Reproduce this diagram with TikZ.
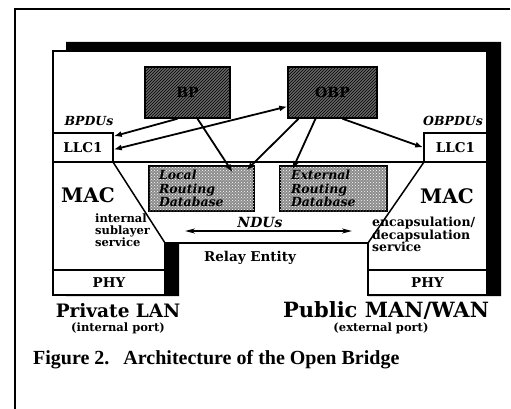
\documentclass[tikz,border=0pt]{standalone}
\usepackage{fontspec}
\setmainfont{DejaVu Serif}
\newfontfamily\capfont{Liberation Serif}
\usetikzlibrary{arrows.meta,patterns}
\begin{document}
\begin{tikzpicture}[x=1pt,y=-1pt,line join=miter,
  frame/.style={line width=1.6pt},
  wall/.style={line width=1.5pt},
  hatchbox/.style={draw, line width=1.5pt, fill=black!60,
    postaction={pattern=north east lines, pattern color=black},
    minimum height=51pt, inner sep=0pt,
    font=\bfseries\fontsize{14}{14}\selectfont},
  dotbox/.style={draw, line width=1.5pt, fill=black!45,
    postaction={pattern=crosshatch dots, pattern color=white},
    minimum height=45pt, inner ysep=0pt, inner xsep=10pt,
    text width=85pt, align=left,
    font=\bfseries\itshape\fontsize{12.5}{13.5}\selectfont},
  portbox/.style={draw, line width=1.5pt, fill=white, inner sep=0pt,
    font=\bfseries\fontsize{13.5}{13.5}\selectfont},
  lbl/.style={inner sep=0pt, anchor=base},
  link/.style={line width=1.8pt, -{Latex[length=8pt,width=6pt]}},
  dlink/.style={line width=1.8pt, {Latex[length=8pt,width=6pt]}-{Latex[length=8pt,width=6pt]}},
  flow/.style={line width=1.6pt, {Stealth[length=10pt,width=5pt]}-{Stealth[length=10pt,width=5pt]}}
]
\useasboundingbox (0,0) rectangle (511,409);

% page frame
\draw[frame] (15,409) -- (15,9) -- (510,9);

% shadow of the bridge body
\fill[black] (66,42) -- (501,42) -- (501,296) -- (368,296) -- (368,243)
  -- (179,243) -- (179,296) -- (66,296) -- cycle;
% bridge body
\filldraw[wall, fill=white] (53,51) -- (487,51) -- (487,295) -- (368,295)
  -- (368,243) -- (165,243) -- (165,295) -- (53,295) -- cycle;

% relay entity boundary and MAC sublayers
\draw[wall] (113,162) -- (424,162);
\draw[wall] (113,162) -- (165,243);
\draw[wall] (424,162) -- (368,243);

% ports
\node[portbox, minimum width=60pt, minimum height=29pt] (llcL) at (83,147.5) {LLC1};
\node[portbox, minimum width=63pt, minimum height=29pt] (llcR) at (455.5,147.5) {LLC1};
\node[portbox, minimum width=112pt, minimum height=25pt] (phyL) at (109,282.5) {PHY};
\node[portbox, minimum width=119pt, minimum height=25pt] (phyR) at (427.5,282.5) {PHY};

% protocol entities
\node[hatchbox, minimum width=85pt] (bp) at (187.5,92.5) {BP};
\node[hatchbox, minimum width=89pt] (obp) at (332.5,92.5) {OBP};

% routing databases
\node[dotbox] (locdb) at (201.5,188.5) {Local\\Routing\\Database};
\node[dotbox, minimum width=107pt] (extdb) at (333.5,188.5) {External\\Routing\\Database};

% labels
\node[lbl, font=\bfseries\itshape\fontsize{12.5}{12.5}\selectfont] (bpdu) at (89,126) {BPDUs};
\node[lbl, font=\bfseries\itshape\fontsize{12.5}{12.5}\selectfont] (obpdu) at (453,126) {OBPDUs};
\node[lbl, font=\bfseries\fontsize{20}{20}\selectfont] (macL) at (88,202) {MAC};
\node[lbl, font=\bfseries\fontsize{20}{20}\selectfont] (macR) at (447,203) {MAC};
\node[inner sep=0pt, anchor=north west, align=left,
  font=\bfseries\fontsize{11.5}{12}\selectfont] (intsvc) at (95,214)
  {internal\\sublayer\\service};
\node[inner sep=0pt, anchor=north west, align=left,
  font=\bfseries\fontsize{12.5}{12.5}\selectfont] (extsvc) at (372,217)
  {encapsulation/\\decapsulation\\service};
\node[lbl, font=\bfseries\itshape\fontsize{14}{14}\selectfont] (ndu) at (260,227) {NDUs};
\node[lbl, font=\bfseries\fontsize{13.5}{13.5}\selectfont] (relay) at (250,261) {Relay Entity};
\node[lbl, font=\bfseries\fontsize{18.5}{18.5}\selectfont] (lan) at (118,317) {Private LAN};
\node[lbl, font=\bfseries\fontsize{11.5}{11.5}\selectfont] (lanport) at (118,331) {(internal port)};
\node[lbl, font=\bfseries\fontsize{21}{21}\selectfont] (wan) at (386,317) {Public MAN/WAN};
\node[lbl, font=\bfseries\fontsize{11.5}{11.5}\selectfont] (wanport) at (381,331) {(external port)};
\node[anchor=base west, inner sep=0pt, font=\capfont\bfseries\fontsize{20}{20}\selectfont]
  (cap) at (33,364) {Figure 2.\hspace{14pt}Architecture of the Open Bridge};

% NDU flow through the relay entity
\coordinate (ndL) at (185,231);
\coordinate (ndR) at (352,231);
\draw[flow] (ndL) -- (ndR);

% protocol data flows
\draw[link] ([xshift=-10pt]bp.south) -- ([yshift=-4pt]llcL.north east);
\draw[dlink] ([yshift=-2pt]llcL.east) -- ([yshift=-14pt]obp.west);
\draw[link] ([xshift=10pt]bp.south) -- ([xshift=31pt,yshift=-7pt]locdb.north);
\draw[link] ([xshift=-34pt]obp.south) -- ([xshift=45pt,yshift=-5pt]locdb.north);
\draw[link] ([xshift=-17pt]obp.south) -- ([xshift=-41pt,yshift=-4pt]extdb.north);
\draw[link] ([xshift=10pt]obp.south) -- (llcR.west);
\end{tikzpicture}
\end{document}
